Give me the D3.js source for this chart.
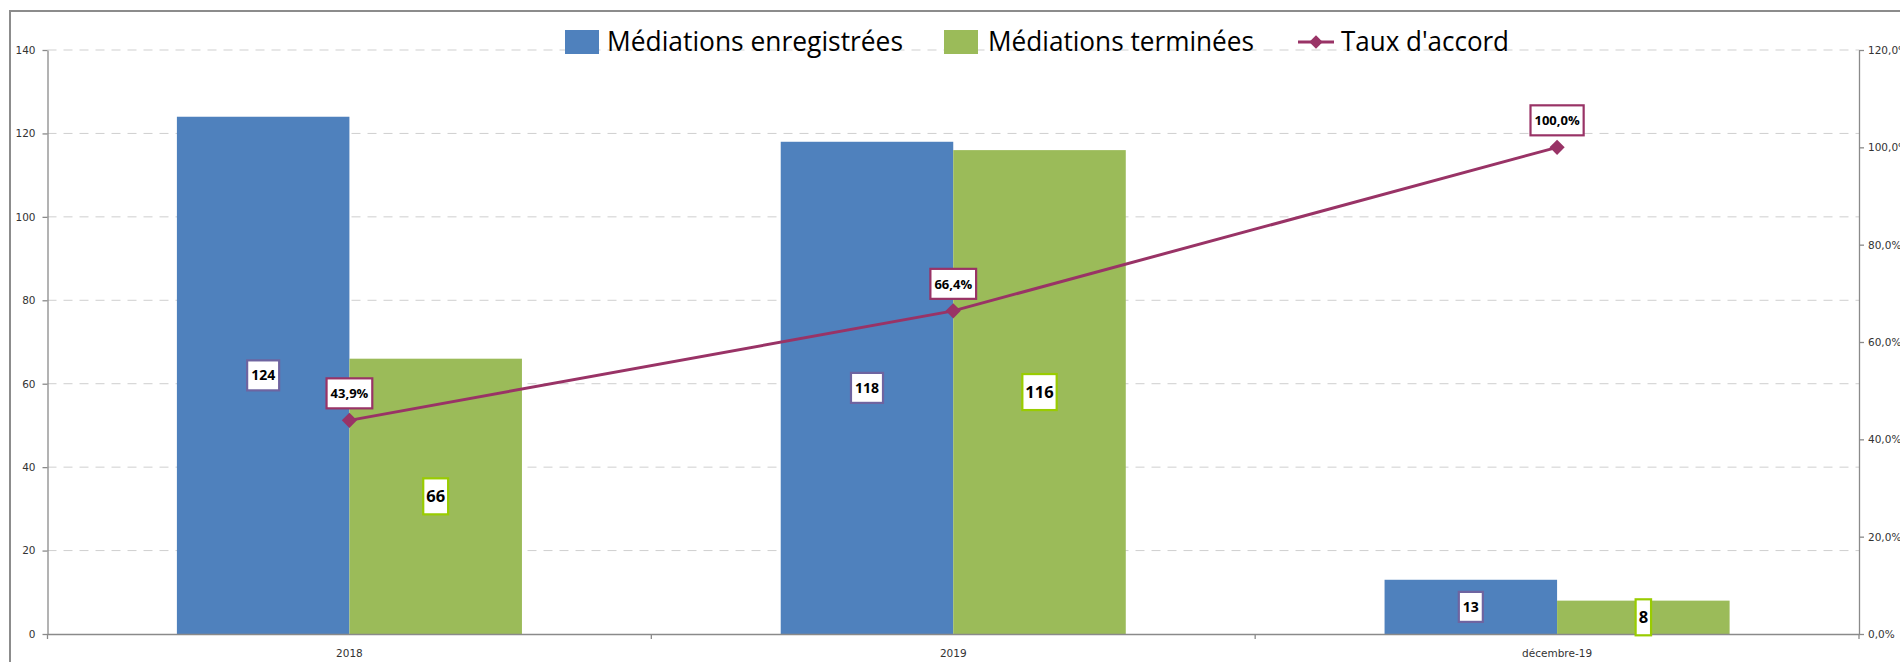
<!DOCTYPE html>
<html>
<head>
<meta charset="utf-8">
<script src="https://cdn.jsdelivr.net/npm/d3@7"></script>
<style>
body { margin: 0; background: #fff; }
svg { display: block; }
</style>
</head>
<body>
<div id="chart"></div>
<script>
const width = 1900
const height = 662
const margin = {top: 50, bottom: 28, left: 47.5, right: 41}

// donnees
const categories = ["2018", "2019", "décembre-19"]
const enregistrees = [124, 118, 13]
const terminees = [66, 116, 8]
const tauxAccord = [0.439, 0.664, 1.0]
const leftTicks = [0, 20, 40, 60, 80, 100, 120, 140]
const rightTicks = [0, 0.2, 0.4, 0.6, 0.8, 1.0, 1.2]
const seriesNames = ["Médiations enregistrées", "Médiations terminées", "Taux d'accord"]

const colors = {blue: "#4f81bd", green: "#9bbb59", plum: "#993366", axis: "#8a8a8a"}
const tickFont = "'DejaVu Sans', Verdana, sans-serif"
const labelFont = "'Open Sans', 'Noto Sans', sans-serif"

const fr = d3.formatLocale({decimal: ",", thousands: " ", grouping: [3], currency: ["", " €"]})
const pct = fr.format(".1%")

const innerW = width - margin.left - margin.right
const innerH = height - margin.top - margin.bottom

const svg = d3.select("#chart").append("svg").attr("width", width).attr("height", height)

// cadre du graphique (coupe a droite et en bas)
svg.append("path")
    .attr("d", `M10,${height} V11 H${width}`)
    .attr("fill", "none").attr("stroke", "#8c8c8c").attr("stroke-width", 2)

const g = svg.append("g").attr("transform", `translate(${margin.left}, ${margin.top})`)

const x = d3.scaleBand().domain(categories).range([0, innerW]).padding(0)
const yLeft = d3.scaleLinear().domain([0, 140]).range([innerH, 0])
const yRight = d3.scaleLinear().domain([0, 1.2]).range([innerH, 0])

// gap width 150% comme Excel
const barW = x.bandwidth() / 3.5
const groupOffset = (x.bandwidth() - 2 * barW) / 2

// grille
g.append("g").selectAll("line")
    .data(leftTicks.filter(d => d > 0))
    .join("line")
    .attr("x1", 0).attr("x2", innerW)
    .attr("y1", d => yLeft(d)).attr("y2", d => yLeft(d))
    .attr("stroke", "#cfcfcf").attr("stroke-dasharray", "9,7")

// barres
const rows = categories.map((c, i) => ({cat: c, enr: enregistrees[i], ter: terminees[i], taux: tauxAccord[i]}))

g.append("g").selectAll("rect")
    .data(rows)
    .join("rect")
    .attr("x", d => x(d.cat) + groupOffset)
    .attr("y", d => yLeft(d.enr))
    .attr("width", barW)
    .attr("height", d => innerH - yLeft(d.enr))
    .attr("fill", colors.blue)

g.append("g").selectAll("rect")
    .data(rows)
    .join("rect")
    .attr("x", d => x(d.cat) + groupOffset + barW)
    .attr("y", d => yLeft(d.ter))
    .attr("width", barW)
    .attr("height", d => innerH - yLeft(d.ter))
    .attr("fill", colors.green)

// axes
function styleAxis(sel) {
    sel.select(".domain").attr("stroke", colors.axis).attr("stroke-width", 1.3)
    sel.selectAll(".tick line").attr("stroke", colors.axis).attr("stroke-width", 1.3)
    sel.selectAll(".tick text").attr("fill", "#333").style("font-family", tickFont).style("font-size", "10.5px")
}

g.append("g")
    .call(d3.axisLeft(yLeft).tickValues(leftTicks).tickSize(5).tickSizeOuter(0).tickPadding(7))
    .call(styleAxis)

g.append("g")
    .attr("transform", `translate(${innerW}, 0)`)
    .call(d3.axisRight(yRight).tickValues(rightTicks).tickFormat(pct).tickSize(5).tickSizeOuter(0).tickPadding(4))
    .call(styleAxis)

const xAxisGroup = g.append("g").attr("transform", `translate(0, ${innerH})`)
xAxisGroup.call(d3.axisBottom(x).tickSize(0).tickSizeOuter(0).tickPadding(16))
    .call(styleAxis)
// graduations aux limites des categories
xAxisGroup.selectAll("line.bound")
    .data(categories.map(c => x(c)).concat([innerW]))
    .join("line").attr("class", "bound")
    .attr("x1", d => d).attr("x2", d => d)
    .attr("y1", 0).attr("y2", 5)
    .attr("stroke", colors.axis).attr("stroke-width", 1.3)

// courbe taux d'accord
const cx = d => x(d.cat) + x.bandwidth() / 2
const line = d3.line().x(cx).y(d => yRight(d.taux))

g.append("path")
    .datum(rows)
    .attr("d", line)
    .attr("fill", "none")
    .attr("stroke", colors.plum)
    .attr("stroke-width", 3)

const diamond = d3.symbol().type(d3.symbolSquare).size(115)
g.append("g").selectAll("path")
    .data(rows)
    .join("path")
    .attr("d", diamond)
    .attr("transform", d => `translate(${cx(d)}, ${yRight(d.taux)}) rotate(45)`)
    .attr("fill", colors.plum)

// etiquettes de donnees
function labelBox(parent, px, py, text, fontSize, stroke, padX, boxH) {
    const lg = parent.append("g").attr("transform", `translate(${px}, ${py})`)
    const rect = lg.append("rect")
    const t = lg.append("text")
        .attr("text-anchor", "middle")
        .attr("dy", "0.36em")
        .style("font-family", labelFont)
        .style("font-weight", "bold")
        .style("font-size", fontSize + "px")
        .attr("fill", "#000")
        .text(text)
    const w = t.node().getComputedTextLength() + padX * 2
    rect.attr("x", -w / 2).attr("y", -boxH / 2).attr("width", w).attr("height", boxH)
        .attr("fill", "#fff").attr("stroke", stroke).attr("stroke-width", 2.2)
}

const labels = g.append("g")
rows.forEach(d => {
    labelBox(labels, x(d.cat) + groupOffset + barW / 2, yLeft(d.enr / 2), d.enr, 14, "#6e64a0", 4, 30)
    labelBox(labels, x(d.cat) + groupOffset + barW * 1.5, yLeft(d.ter / 2), d.ter, 16.5, "#99cc00", 3, 36)
    labelBox(labels, cx(d), yRight(d.taux) - 27, pct(d.taux), 13, colors.plum, 4, 30)
})

// legende
const legend = svg.append("g").attr("transform", "translate(565, 42)")
const legendItems = [
    {name: seriesNames[0], type: "rect", color: colors.blue, x: 0, tx: 42, len: 296},
    {name: seriesNames[1], type: "rect", color: colors.green, x: 379, tx: 423, len: 266},
    {name: seriesNames[2], type: "line", color: colors.plum, x: 733, tx: 776, len: 168}
]
legendItems.forEach(d => {
    if (d.type === "rect") {
        legend.append("rect").attr("x", d.x).attr("y", -12).attr("width", 34).attr("height", 24).attr("fill", d.color)
    } else {
        legend.append("line").attr("x1", d.x).attr("x2", d.x + 36).attr("y1", 0).attr("y2", 0)
            .attr("stroke", d.color).attr("stroke-width", 3)
        legend.append("path").attr("d", d3.symbol().type(d3.symbolSquare).size(90))
            .attr("transform", `translate(${d.x + 18}, 0) rotate(45)`).attr("fill", d.color)
    }
    legend.append("text")
        .attr("x", d.tx).attr("y", 0).attr("dy", "0.35em")
        .attr("textLength", d.len).attr("lengthAdjust", "spacingAndGlyphs")
        .style("font-family", labelFont)
        .style("font-size", "27px")
        .attr("fill", "#000")
        .text(d.name)
})
</script>
</body>
</html>
